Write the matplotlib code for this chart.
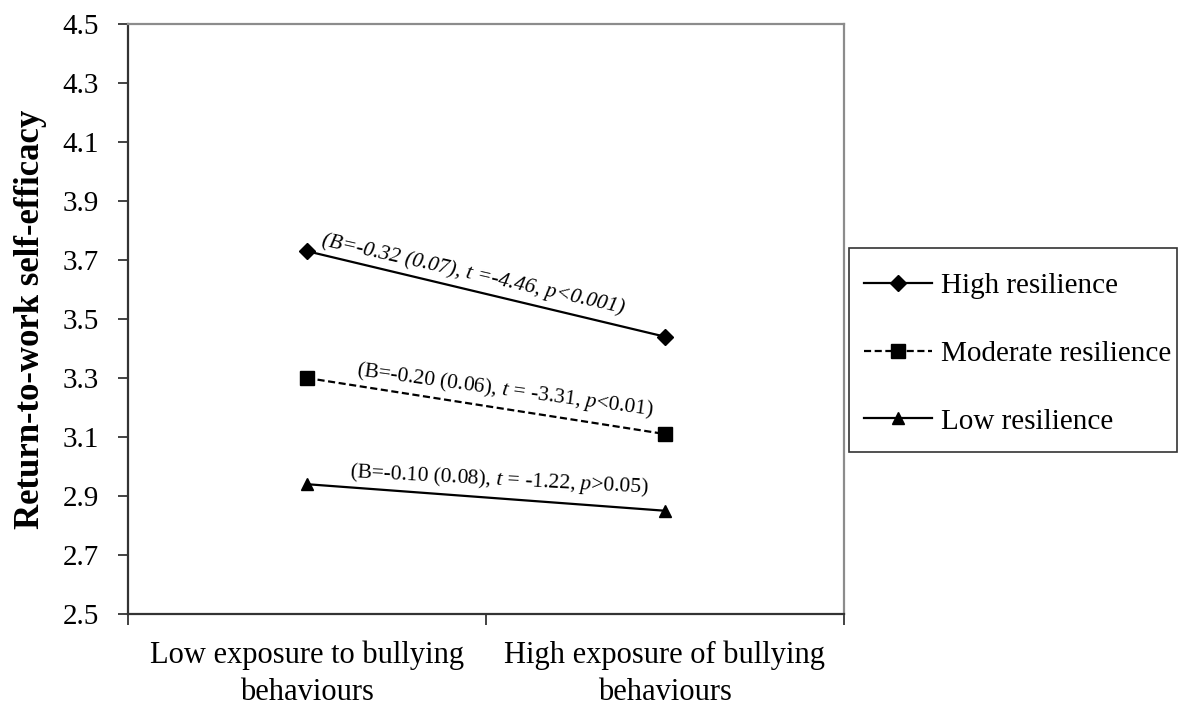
import matplotlib
matplotlib.use("Agg")
import matplotlib.pyplot as plt
from matplotlib.patches import Rectangle

plt.rcParams["font.family"] = ["Liberation Serif", "DejaVu Serif"]
plt.rcParams["mathtext.fontset"] = "custom"
plt.rcParams["mathtext.rm"] = "Liberation Serif"
plt.rcParams["mathtext.it"] = "Liberation Serif:italic"

categories = ["Low exposure to bullying\nbehaviours", "High exposure of bullying\nbehaviours"]
high = [3.73, 3.44]
moderate = [3.30, 3.11]
low = [2.94, 2.85]
series_labels = ["High resilience", "Moderate resilience", "Low resilience"]
notes = [
    "(B=-0.32 (0.07), t =-4.46, p<0.001)",
    "(B=-0.20 (0.06), $\\mathit{t}$ = -3.31, $\\mathit{p}$<0.01)",
    "(B=-0.10 (0.08), $\\mathit{t}$ = -1.22, $\\mathit{p}$>0.05)",
]
yticks = [2.5, 2.7, 2.9, 3.1, 3.3, 3.5, 3.7, 3.9, 4.1, 4.3, 4.5]

W, H = 1178, 705
fig = plt.figure(figsize=(W / 100, H / 100), dpi=100)
ax = fig.add_axes([128 / W, 1 - 614 / H, (844 - 128) / W, (614 - 24) / H])

xs = [0.5, 1.5]
ax.plot(xs, high, color="black", lw=1.6, marker="D", ms=8, label=series_labels[0])
ax.plot(xs, moderate, color="black", lw=1.6, ls=(0, (3.2, 1.6)), marker="s", ms=10,
        label=series_labels[1])
ax.plot(xs, low, color="black", lw=1.6, marker="^", ms=9, label=series_labels[2])

ax.set_xlim(0, 2)
ax.set_ylim(2.5, 4.5)
ax.set_yticks(yticks)
ax.set_yticklabels([f"{v:.1f}" for v in yticks], fontsize=21)
ax.set_xticks([0, 1, 2])
ax.set_xticklabels([])
ax.set_xticks(xs, minor=True)
ax.set_xticklabels(categories, minor=True, fontsize=22, linespacing=1.35)
ax.tick_params(axis="x", which="minor", length=0, pad=19)
ax.tick_params(axis="x", which="major", length=8, width=1.2, color="#222222")
ax.tick_params(axis="y", length=7, width=1.2, color="#222222", pad=14)

for side in ["left", "bottom"]:
    ax.spines[side].set_color("#333333")
    ax.spines[side].set_linewidth(1.6)
for side in ["top", "right"]:
    ax.spines[side].set_color("#8c8c8c")
    ax.spines[side].set_linewidth(1.6)

ax.set_ylabel("Return-to-work self-efficacy", fontsize=25, fontweight="bold")
ax.yaxis.set_label_coords(-0.113, 0.5)

# slope annotations, rotated to follow each line
note_x = [0.964, 1.053, 1.036]
note_y = [3.650, 3.259, 2.954]
note_rot = [-12.7, -7.7, -3.0]
for i in range(3):
    style = "italic" if i == 0 else "normal"
    ax.text(note_x[i], note_y[i], notes[i], fontsize=15.5, style=style,
            rotation=note_rot[i], rotation_mode="anchor", ha="center", va="center")

# legend box drawn separately so that the entries can sit freely inside it
fig.patches.append(Rectangle((849 / W, 1 - 452 / H), (1177 - 849) / W, 204 / H,
                             transform=fig.transFigure, fill=False,
                             edgecolor="#333333", lw=1.2))
fig.legend(loc="upper left", bbox_to_anchor=(849 / W, 1 - 258 / H),
           fontsize=21, frameon=False, borderaxespad=0,
           handlelength=2.33, handletextpad=0.31, labelspacing=1.42,
           borderpad=0.5)

fig.savefig("out.png", dpi=100)
